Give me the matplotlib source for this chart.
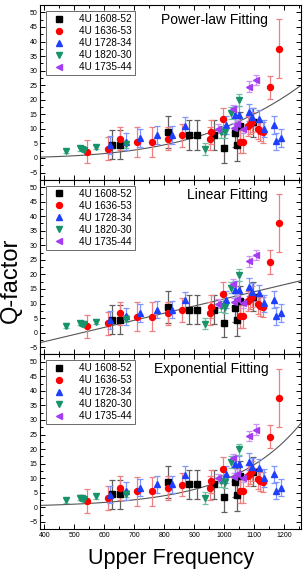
import matplotlib
matplotlib.use('Agg')
import matplotlib.pyplot as plt
import numpy as np
from matplotlib.ticker import MultipleLocator
from matplotlib.lines import Line2D

plt.rcParams['font.family'] = ['Liberation Sans', 'DejaVu Sans']

# data (same points in all three panels)
f_1608 = [627, 654, 812, 884, 908, 966, 998, 1036, 1043, 1053, 1096]
q_1608 = [4.5, 4.5, 8.8, 7.9, 7.9, 7.9, 3.4, 8.6, 4.4, 10.9, 12.3]
e_1608 = [5.0, 5.0, 5.5, 5.0, 5.0, 5.0, 5.0, 5.0, 5.5, 5.0, 5.0]

f_1636 = [542, 613, 651, 710, 759, 811, 858, 954, 955, 996, 1051, 1062,
          1079, 1087, 1093, 1111, 1119, 1129, 1153, 1181]
q_1636 = [2.2, 3.2, 6.6, 5.5, 5.5, 6.6, 7.8, 6.6, 8.9, 13.3, 5.6, 5.6,
          10.9, 11.6, 12.4, 9.9, 9.2, 8.8, 24.3, 37.6]
e_1636 = [4.0, 4.0, 4.0, 5.0, 5.0, 4.0, 4.0, 4.0, 4.0, 4.0, 4.0, 4.0,
          3.5, 3.5, 3.5, 3.5, 3.5, 3.5, 4.0, 10.0]

f_1728 = [620, 672, 720, 776, 825, 869, 1007, 1036, 1049, 1082, 1094,
          1115, 1134, 1167, 1172, 1190]
q_1728 = [4.4, 5.6, 6.8, 7.9, 7.9, 11.1, 11.3, 14.8, 14.8, 15.7, 14.0,
          13.5, 10.1, 11.3, 5.7, 6.8]
e_1728 = [3.0, 3.0, 3.0, 3.0, 3.0, 3.0, 3.0, 3.0, 3.0, 3.0, 3.0,
          3.0, 3.0, 3.0, 3.0, 3.0]

f_1820 = [474, 520, 527, 534, 574, 671, 937, 990, 1001, 1024, 1048]
q_1820 = [2.4, 3.3, 3.1, 2.8, 3.8, 4.7, 3.1, 9.0, 8.8, 15.5, 19.9]
e_1820 = [0.8, 0.8, 0.8, 0.8, 0.8, 1.2, 2.0, 2.0, 2.0, 2.0, 2.0]

f_1735 = [978, 1030, 1033, 1043, 1064, 1084, 1107]
q_1735 = [10.0, 16.8, 10.4, 11.5, 10.1, 24.5, 26.7]
e_1735 = [1.5, 1.5, 1.5, 1.5, 1.5, 1.8, 1.8]

sources = [
    ('4U 1608-52', f_1608, q_1608, e_1608, 's', 'black', '#606060'),
    ('4U 1636-53', f_1636, q_1636, e_1636, 'o', '#ff0000', '#f08080'),
    ('4U 1728-34', f_1728, q_1728, e_1728, '^', '#1f3fff', '#7f95ff'),
    ('4U 1820-30', f_1820, q_1820, e_1820, 'v', '#17936a', '#6cc3a4'),
    ('4U 1735-44', f_1735, q_1735, e_1735, '<', '#a43cf2', '#cf93f7'),
]

# fitted models (parameters estimated from the drawn curves)
pow_a, pow_b = 10.5, 3.8
lin_a, lin_b = -3.1, 0.0245
exp_a, exp_t = 0.7, 230.0

xx = np.linspace(385, 1260, 300)
fits = [
    ('Power-law Fitting', pow_a * (xx / 1000.0) ** pow_b),
    ('Linear Fitting', lin_a + lin_b * (xx - 400)),
    ('Exponential Fitting', exp_a * np.exp((xx - 400) / exp_t)),
]

fig, axes = plt.subplots(3, 1, figsize=(3.06, 5.69), dpi=100, sharex=True)
fig.subplots_adjust(left=0.131, right=0.983, top=0.991, bottom=0.070, hspace=0)

handles = [Line2D([], [], ls='none', marker=m, color=c, ms=4.3, label=name)
           for name, f, q, e, m, c, ec in sources]

for ax, (title, yy) in zip(axes, fits):
    ax.plot(xx, yy, color='#555555', lw=0.8, zorder=1)
    for name, f, q, e, m, c, ec in sources:
        ax.errorbar(f, q, yerr=e, fmt=m, color=c, ecolor=ec, elinewidth=0.9,
                    capsize=2, capthick=0.9, ms=4.3, mec=c, zorder=3)
    ax.set_xlim(386, 1255)
    ax.set_ylim(-7.5, 52.5)
    ax.xaxis.set_major_locator(MultipleLocator(100))
    ax.xaxis.set_minor_locator(MultipleLocator(50))
    ax.yaxis.set_major_locator(MultipleLocator(5))
    ax.yaxis.set_minor_locator(MultipleLocator(2.5))
    ax.tick_params(which='both', direction='in', top=True, right=True,
                   labelsize=5, pad=2, width=0.7)
    ax.tick_params(which='major', length=3.5)
    ax.tick_params(which='minor', length=2)
    for s in ax.spines.values():
        s.set_linewidth(0.8)
    ax.text(0.875, 0.915, title, transform=ax.transAxes, ha='right',
            va='center', fontsize=10)
    leg = ax.legend(handles=handles, loc='upper left', fontsize=7.2,
                    frameon=True, fancybox=False, edgecolor='#444444',
                    borderpad=0.3, labelspacing=0.2, handletextpad=1.0,
                    borderaxespad=0.6, handlelength=2.0)
    leg.get_frame().set_linewidth(0.7)

axes[-1].set_xticks(np.arange(400, 1201, 100))
fig.text(0.035, 0.508, 'Q-factor', rotation=90, ha='center', va='center',
         fontsize=17)
fig.text(0.56, 0.0095, 'Upper Frequency', ha='center', va='baseline',
         fontsize=15.5)

plt.savefig('out.png', dpi=100)
